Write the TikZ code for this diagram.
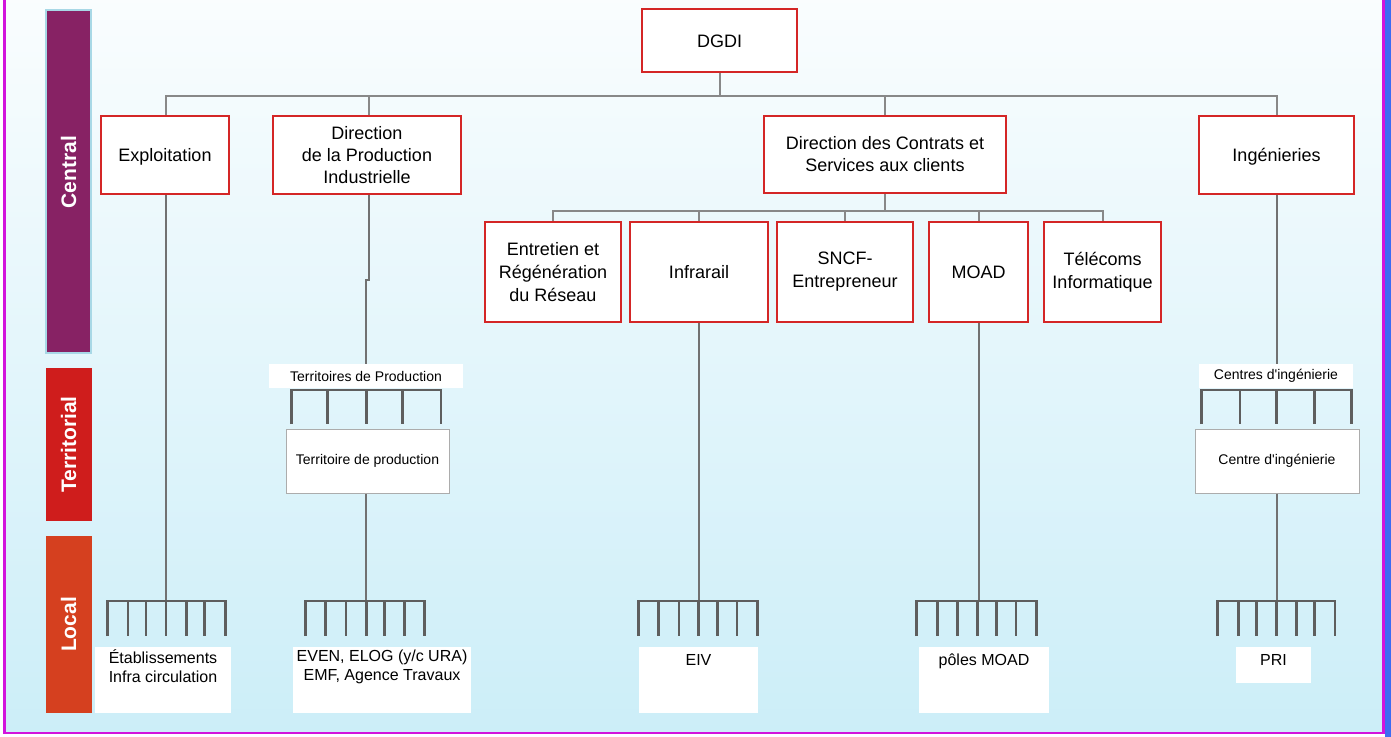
\documentclass[tikz,border=0pt]{standalone}
\usepackage{fontspec}
\setmainfont{Liberation Sans}[Ligatures=TeXOff]
\definecolor{boxred}{HTML}{D42626}
\definecolor{bgtop}{HTML}{FAFDFE}
\definecolor{bgbot}{HTML}{CCEEF8}
\definecolor{framemag}{HTML}{D214DC}
\definecolor{bluestrip}{HTML}{3D6BF2}
\definecolor{centralc}{HTML}{872264}
\definecolor{centralbd}{HTML}{A8D8E6}
\definecolor{territc}{HTML}{CF1D1C}
\definecolor{localc}{HTML}{D5401F}
\definecolor{connc}{HTML}{888888}
\definecolor{vlinec}{HTML}{717171}
\definecolor{combc}{HTML}{5E5E5E}
\newcommand\mycomb[5]{% ytop, ybottom, xfirst, xlast, list of inner x
  \draw[combline] (#3,#2) -- (#3,#1) -- (#4,#1) -- (#4,#2);
  \foreach \xx in {#5} {\draw[combline] (\xx,#1) -- (\xx,#2);}
}
\begin{document}
\begin{tikzpicture}[x=1pt,y=-1pt,
  redbox/.style={draw=boxred,line width=2pt,fill=white,inner sep=0pt,align=center,
    font=\fontsize{18}{22}\selectfont},
  redboxb/.style={redbox,font=\fontsize{18}{23}\selectfont},
  onel/.style={text depth=0pt,text height=13pt},
  band/.style={inner sep=0pt,minimum width=46},
  bandtext/.style={text=white,font=\fontsize{21}{24}\selectfont\bfseries,rotate=90},
  lbl/.style={fill=white,inner sep=0pt,align=center,font=\fontsize{14}{17}\selectfont},
  lblbox/.style={lbl,draw=gray!65,line width=1pt},
  btm/.style={fill=white,inner sep=0pt},
  btmtext/.style={inner sep=0pt,align=center,anchor=north,
    font=\fontsize{16}{19}\selectfont,execute at begin node={\rule{0pt}{15pt}}},
  conn/.style={draw=connc,line width=2pt},
  vline/.style={draw=vlinec,line width=2pt},
  combline/.style={draw=combc,line width=2.6pt,line join=miter}]
\useasboundingbox (0,0) rectangle (1391,736);
\clip (0,0) rectangle (1391,736);
% background and frame
\fill[white] (0,0) rectangle (1391,736);
\shade[top color=bgtop,bottom color=bgbot] (5,-5) rectangle (1383,733);
\fill[bluestrip] (1385,-5) rectangle (1391,741);
\draw[framemag,line width=2.5pt] (4.7,-5) -- (4.7,733) -- (1383.5,733) -- (1383.5,-5);
% level bands
\node[band,fill=centralc,draw=centralbd,line width=1.5pt,minimum width=45,minimum height=343] (bandC) at (68.5,181.5) {};
\node[bandtext] (txtC) at (68.5,172) {Central};
\node[band,fill=territc,minimum height=153] (bandT) at (68.5,444.5) {};
\node[bandtext] (txtT) at (bandT.center) {Territorial};
\node[band,fill=localc,minimum height=177] (bandL) at (68.5,624.5) {};
\node[bandtext] (txtL) at (bandL.center) {Local};
% central boxes
\node[redbox,onel,minimum width=155,minimum height=63] (dgdi) at (719.5,40.5) {DGDI};
\node[redbox,onel,minimum width=128,minimum height=78] (expl) at (165,155) {Exploitation};
\node[redbox,minimum width=188,minimum height=78] (dpi) at (367,155) {Direction\\de la Production\\Industrielle};
\node[redbox,minimum width=242,minimum height=77] (dcs) at (885,154.5) {Direction des Contrats et\\Services aux clients};
\node[redbox,onel,minimum width=155,minimum height=78] (ing) at (1276.5,155) {Ingénieries};
\node[redboxb,minimum width=136,minimum height=100] (entr) at (553,272) {Entretien et\\Régénération\\du Réseau};
\node[redboxb,onel,minimum width=138,minimum height=100] (infr) at (699,272) {Infrarail};
\node[redboxb,minimum width=136,minimum height=100] (sncf) at (845,272) {SNCF-\\Entrepreneur};
\node[redboxb,onel,minimum width=99,minimum height=100] (moad) at (978.5,272) {MOAD};
\node[redboxb,minimum width=117,minimum height=100] (tele) at (1102.5,272) {Télécoms\\Informatique};
% territorial labels
\node[lbl,minimum width=194,minimum height=24] (terrs) at (366,376) {Territoires de Production};
\node[lbl,minimum width=154,minimum height=24] (cents) at (1276,376) {Centres d'ingénierie};
\node[lblbox,minimum width=163,minimum height=64] (terr) at (367.5,461) {Territoire de production};
\node[lblbox,minimum width=164,minimum height=64] (cent) at (1277,461) {Centre d'ingénierie};
% local labels
\node[btm,minimum width=136,minimum height=66] (etab) at (163,680) {};
\node[btmtext] (etabt) at ([yshift=-3pt]etab.north) {Établissements\\Infra circulation};
\node[btm,minimum width=178,minimum height=66] (even) at (382,680) {};
\node[btmtext] (event) at ([yshift=-3pt]even.north) {EVEN, ELOG (y/c URA)\\EMF, Agence Travaux};
\node[btm,minimum width=119,minimum height=66] (eiv) at (698.5,680) {};
\node[btmtext] (eivt) at ([yshift=-3pt]eiv.north) {EIV};
\node[btm,minimum width=130,minimum height=66] (poles) at (984,680) {};
\node[btmtext] (polest) at ([yshift=-3pt]poles.north) {pôles MOAD};
\node[btm,minimum width=75,minimum height=36] (pri) at (1273.5,665) {};
\node[btmtext] (prit) at ([yshift=-3pt]pri.north) {PRI};
% comb hubs
\coordinate (hubE) at (166,601);
\coordinate (hubP) at (366.3,601);
\coordinate (hubI) at (699,601);
\coordinate (hubM) at (978.5,601);
\coordinate (hubG) at (1277,601);
% upper connectors
\draw[conn] (dgdi.south) -- ++(0,23) coordinate (bus1);
\draw[conn] ([xshift=1pt]expl.north) |- (bus1) -| (ing.north);
\draw[conn] ([xshift=2pt]dpi.north) -- ([xshift=2pt]dpi.north |- bus1);
\draw[conn] (dcs.north) -- (dcs.north |- bus1);
\draw[conn] (dcs.south) -- ++(0,17) coordinate (bus2);
\draw[conn] (entr.north) |- (bus2) -| (tele.north);
\draw[conn] (infr.north) -- (infr.north |- bus2);
\draw[conn] (sncf.north) -- (sncf.north |- bus2);
\draw[conn] (moad.north) -- (moad.north |- bus2);
% vertical lines down
\draw[vline] ([xshift=1pt]expl.south) -- (hubE);
\draw[vline] ([xshift=2pt]dpi.south) -- ++(0,85) -| (terrs.north);
\draw[vline] (terr.south -| hubP) -- (hubP);
\draw[vline] (infr.south) -- (hubI);
\draw[vline] (moad.south) -- (hubM);
\draw[vline] (ing.south) -- (cents.north -| ing.south);
\draw[vline] (cent.south) -- (hubG);
% combs
\mycomb{390}{424}{291.7}{441}{327.7,366.3,402.3}
\mycomb{390}{424}{1201.7}{1351.3}{1240,1276.7,1314.7}
\mycomb{601}{636}{107.7}{225.3}{128,146,166,186.3,204.3}
\mycomb{601}{636}{305.3}{424.7}{325.7,346,366.3,384.7,404.3}
\mycomb{601}{636}{638.3}{757.7}{658.7,679,698.3,717.3,737}
\mycomb{601}{636}{916.7}{1036.7}{937.3,957.7,977.7,996.7,1016}
\mycomb{601}{636}{1217.7}{1335}{1238.3,1256.3,1276.3,1296.3,1314.3}
\end{tikzpicture}
\end{document}
